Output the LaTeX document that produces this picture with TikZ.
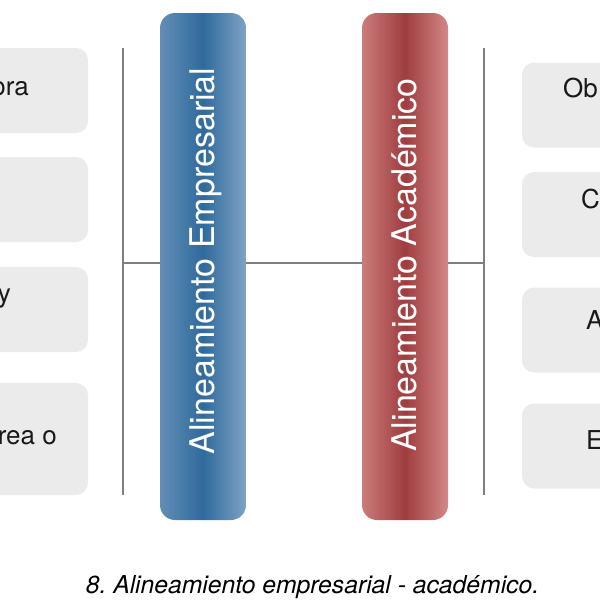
\documentclass[tikz,border=0pt]{standalone}
\usepackage{fontspec}
\setmainfont{TeX Gyre Heros}
\frenchspacing

\definecolor{empdark}{HTML}{2F6A9C}
\definecolor{empleft}{HTML}{628EB6}
\definecolor{empright}{HTML}{7EA3C5}
\definecolor{acadark}{HTML}{9F3D3F}
\definecolor{acaleft}{HTML}{CC7B7B}
\definecolor{acaright}{HTML}{D38787}
\definecolor{boxgrey}{HTML}{EBEBEB}
\definecolor{linegrey}{HTML}{7F7F7F}

\newcommand{\boxfont}{\fontsize{26}{30}\selectfont}
\newcommand{\barfont}{\fontsize{34}{40}\selectfont}
\newcommand{\capfont}{\fontsize{24.7}{30}\selectfont\itshape}

\tikzset{
  itembox/.style={rounded corners=12pt,fill=boxgrey,minimum width=200pt,minimum height=85pt,inner sep=0pt},
  bar/.style={rounded corners=15pt,minimum width=86pt,minimum height=507pt,inner sep=0pt},
  bartext/.style={rotate=90,anchor=base,text=white,font=\barfont,inner sep=0pt},
  itemtext/.style={font=\boxfont,text=black!90,inner sep=0pt},
  link/.style={draw=linegrey,line width=1.5pt}
}

\begin{document}
\begin{tikzpicture}[x=1pt,y=-1pt]
  \path[use as bounding box,clip] (0,0) rectangle (600,600);

  % left boxes
  \node[itembox] (lbox1) at (-12,90.5) {};
  \node[itembox] (lbox2) at (-12,199.5) {};
  \node[itembox] (lbox3) at (-12,309.5) {};
  \node[itembox,minimum height=112pt] (lbox4) at (-12,439) {};
  \node[itemtext,anchor=base east] (ltext1) at (29,95) {ora};
  \node[itemtext,anchor=base east] (ltext3) at (11,302) {y};
  \node[itemtext,anchor=base east] (ltext4) at (57,444) {rea o};

  % right boxes
  \node[itembox] (rbox1) at (622,105) {};
  \node[itembox] (rbox2) at (622,214.5) {};
  \node[itembox] (rbox3) at (622,330) {};
  \node[itembox] (rbox4) at (622,446) {};
  \node[itemtext,anchor=base west] (rtext1) at (563,97) {Ob};
  \node[itemtext,anchor=base west] (rtext2) at (581,208) {C};
  \node[itemtext,anchor=base west] (rtext3) at (586,329) {A};
  \node[itemtext,anchor=base west] (rtext4) at (586,449) {E};

  % bars
  \node[bar,left color=empleft,right color=empright,middle color=empdark] (emp) at (203,266.5) {};
  \node[bar,left color=acaleft,right color=acaright,middle color=acadark] (acad) at (405,266.5) {};
  \node[bartext] (emptext) at (214,261) {Alineamiento Empresarial};
  \node[bartext] (acadtext) at (416,265) {Alineamiento Académico};

  % brackets
  \coordinate (ltop) at (123,48);
  \coordinate (lbot) at (123,495);
  \coordinate (lmid) at (123,263);
  \coordinate (rtop) at (484,48);
  \coordinate (rbot) at (484,495);
  \coordinate (rmid) at (484,263);
  \draw[link] (ltop) -- (lbot);
  \draw[link] (rtop) -- (rbot);
  \draw[link] (lmid) -- (lmid -| emp.west);
  \draw[link] (lmid -| emp.east) -- (lmid -| acad.west);
  \draw[link] (lmid -| acad.east) -- (rmid);

  \node[font=\capfont,anchor=base,inner sep=0pt] (caption) at (312.5,593) {8. Alineamiento empresarial - académico.};
\end{tikzpicture}
\end{document}
